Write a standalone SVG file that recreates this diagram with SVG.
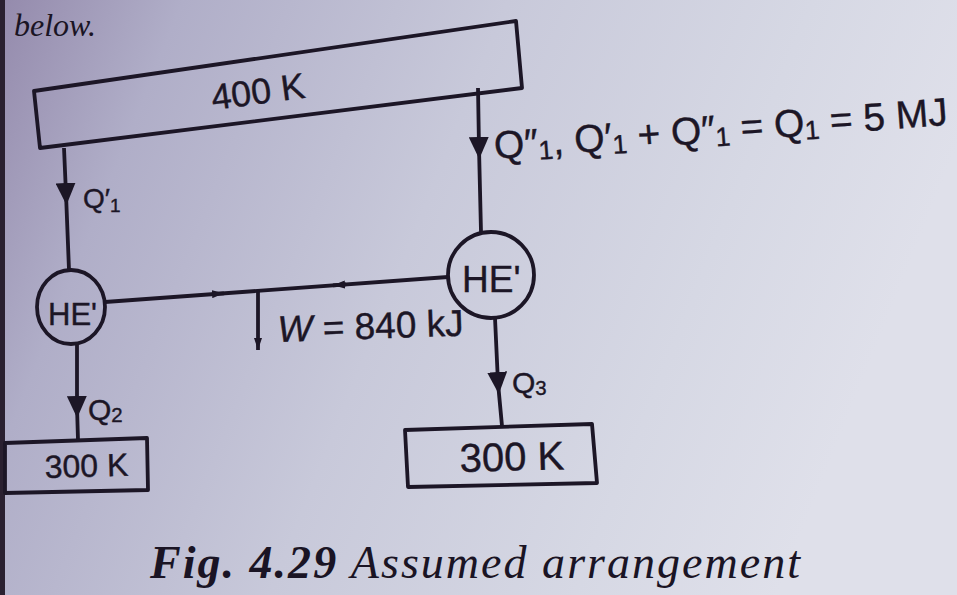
<svg xmlns="http://www.w3.org/2000/svg" width="957" height="595" viewBox="0 0 957 595">
<style>
.ink{fill:none;stroke:#1c1626;stroke-width:3.8;stroke-linejoin:round}
.t{font-family:"Liberation Sans",Arial,sans-serif;fill:#1c1626;stroke:#1c1626;stroke-width:0.4}
.sub{font-size:0.68em}
.cap{font-family:"Liberation Serif","Times New Roman",serif;fill:#1a1424;font-style:italic}
</style>
<defs>
<linearGradient id="bg" x1="0" y1="0" x2="1" y2="0.25">
<stop offset="0" stop-color="#948aac"/>
<stop offset="0.18" stop-color="#b0aec8"/>
<stop offset="0.5" stop-color="#c8c9da"/>
<stop offset="0.8" stop-color="#d6d8e4"/>
<stop offset="1" stop-color="#dfe0ea"/>
</linearGradient>
<marker id="big" viewBox="0 0 22 20" refX="11" refY="10" markerWidth="22" markerHeight="20" markerUnits="userSpaceOnUse" orient="auto">
<path d="M0,0 L22,10 L0,20 z" fill="#1c1626"/>
</marker>
<marker id="sm" viewBox="0 0 12 8" refX="12" refY="4" markerWidth="12" markerHeight="8" markerUnits="userSpaceOnUse" orient="auto">
<path d="M0,0 L12,4 L0,8 z" fill="#1c1626"/>
</marker>
</defs>
<rect width="957" height="595" fill="url(#bg)"/>
<rect x="0" y="0" width="5" height="595" fill="#2a2030"/>
<text class="cap" x="14" y="36" font-size="32">below.</text>

<g id="connectors">
<path class="ink" d="M64,148 L66,194 L69,270" marker-mid="url(#big)"/>
<path class="ink" d="M478,88 L479,148 L481,232" marker-mid="url(#big)"/>
<path class="ink" d="M77,345 L77,407 L78,440" marker-mid="url(#big)"/>
<path class="ink" d="M495,318 L498,383 L502,426" marker-mid="url(#big)"/>
<path class="ink" d="M105,302 L448,277"/>
<path class="ink" d="M212,294.2 L224,293.3" marker-end="url(#sm)"/>
<path class="ink" d="M346,284.4 L333,285.3" marker-end="url(#sm)"/>
<path class="ink" d="M258,291 L258,350" marker-end="url(#sm)"/>
</g>

<g id="hot">
<polygon class="ink" points="34,91 516,21 522,88 40,148"/>
<text class="t" x="213" y="110" font-size="36" transform="rotate(-7.5 213 110)">400 K</text>
</g>

<g id="he1">
<ellipse class="ink" cx="71" cy="307" rx="34" ry="37"/>
<text class="t" x="48" y="325" font-size="31">HE'</text>
</g>

<g id="he2">
<ellipse class="ink" cx="491" cy="275" rx="43" ry="43"/>
<text class="t" x="462" y="292" font-size="37">HE'</text>
</g>

<g id="cold1">
<polygon class="ink" points="5,443 147,438 148,490 5,493"/>
<text class="t" x="45" y="478" font-size="32" transform="rotate(-1.5 45 478)">300 K</text>
</g>

<g id="cold2">
<polygon class="ink" points="405,430 592,424 597,483 408,487"/>
<text class="t" x="460" y="472" font-size="40" transform="rotate(-1.5 460 472)">300 K</text>
</g>

<g id="labels">
<text class="t" x="83" y="208" font-size="28">Q′<tspan class="sub" dy="4">1</tspan></text>
<text class="t" x="88" y="420" font-size="30">Q<tspan class="sub" dy="2">2</tspan></text>
<text class="t" x="512" y="393" font-size="30">Q<tspan class="sub" dy="2">3</tspan></text>
<text class="t" x="278" y="342" font-size="37" transform="rotate(-2 278 342)"><tspan font-style="italic">W</tspan> = 840 kJ</text>
<text class="t" x="495" y="159" font-size="39" transform="rotate(-4.3 495 159)">Q″<tspan class="sub" dy="4">1</tspan><tspan dy="-4">, Q′</tspan><tspan class="sub" dy="4">1</tspan><tspan dy="-4"> + Q″</tspan><tspan class="sub" dy="4">1</tspan><tspan dy="-4"> = Q</tspan><tspan class="sub" dy="4">1</tspan><tspan dy="-4"> = 5 MJ</tspan></text>
</g>

<text class="cap" x="150" y="578" font-size="46" textLength="650"><tspan font-weight="bold">Fig. 4.29</tspan> Assumed arrangement</text>
</svg>
